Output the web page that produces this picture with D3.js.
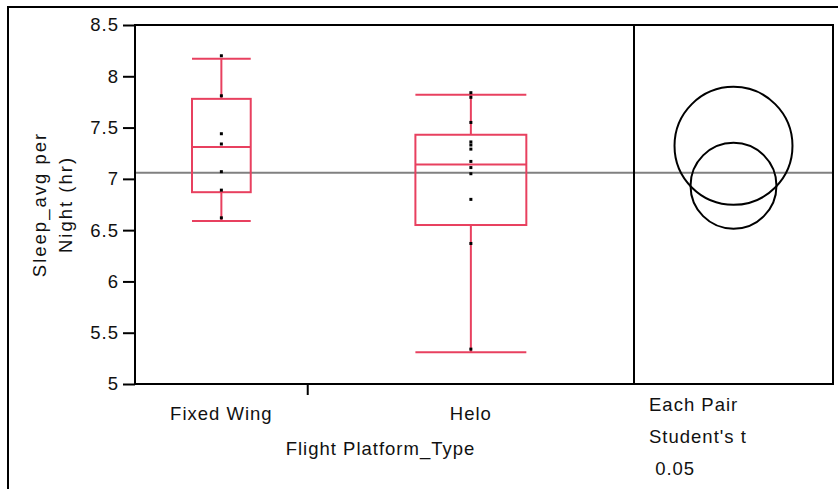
<!DOCTYPE html>
<html>
<head>
<meta charset="utf-8">
<script src="https://cdn.jsdelivr.net/npm/d3@7"></script>
<style>
  body { margin: 0; background: #fff; }
  svg text { font-family: "Liberation Sans", Arial, sans-serif; fill: #111; letter-spacing: 1px; }
</style>
</head>
<body>
<svg id="chart" width="838" height="489"></svg>
<script>
// groups and their (estimated) counts, used for the JMP-style proportional widths
var groups = ['Fixed Wing', 'Helo'];
var groupCounts = [9, 17];

// box stats: [lowerWhisker, q1, median, q3, upperWhisker]
var fixedBox = [6.59, 6.87, 7.31, 7.78, 8.17];
var heloBox = [5.31, 6.55, 7.14, 7.43, 7.82];

var fixedPoints = [8.20, 7.81, 7.44, 7.34, 7.07, 6.89, 6.62];
var heloPoints = [7.84, 7.795, 7.55, 7.36, 7.33, 7.29, 7.17, 7.11, 7.05, 6.80, 6.37, 5.34];

// comparison circles (Each Pair, Student's t, 0.05)
var circleCenters = [7.322, 6.933];
var circleRadii = [0.575, 0.419];

var grandMean = 7.06;
var yTicks = [5, 5.5, 6, 6.5, 7, 7.5, 8, 8.5];

var svg = d3.select('#chart'),
    plotLeft = 135,
    divider = 634,
    plotRight = 833,
    plotTop = 25,
    plotBottom = 384,
    boxColor = '#e8405f';

var y = d3.scaleLinear().domain([5, 8.5]).range([plotBottom, plotTop]);

// cumulative count -> x position in the main panel
var cum = [0];
groupCounts.forEach(function(n, i) { cum.push(cum[i] + n); });
var x = d3.scaleLinear().domain([0, cum[cum.length - 1]]).range([plotLeft, divider]);

// outer frame (left + top)
svg.append('line').attr('x1', 8).attr('x2', 8).attr('y1', 6).attr('y2', 489)
    .attr('stroke', '#000').attr('stroke-width', 2);
svg.append('line').attr('x1', 7).attr('x2', 838).attr('y1', 7).attr('y2', 7)
    .attr('stroke', '#000').attr('stroke-width', 2);

// grand mean line
svg.append('line')
    .attr('x1', plotLeft).attr('x2', plotRight)
    .attr('y1', y(grandMean)).attr('y2', y(grandMean))
    .attr('stroke', '#808080').attr('stroke-width', 2);

// y axis
var yAxis = d3.axisLeft(y).tickValues(yTicks).tickSize(12).tickPadding(4)
    .tickFormat(function(d) { return String(d); });
var yg = svg.append('g').attr('transform', 'translate(' + plotLeft + ',0)').call(yAxis);
yg.select('.domain').remove();
yg.selectAll('line').attr('stroke', '#000').attr('stroke-width', 2);
yg.selectAll('text').style('font-size', '18.5px').attr('fill', '#111')
    .style('font-family', '"Liberation Sans", Arial, sans-serif');

// boxes
var boxes = [fixedBox, heloBox],
    points = [fixedPoints, heloPoints];

groups.forEach(function(g, i) {
    var x0 = x(cum[i]), x1 = x(cum[i + 1]),
        cx = (x0 + x1) / 2,
        bw = (x1 - x0) * 0.34,
        b = boxes[i],
        gg = svg.append('g')
            .attr('fill', 'none')
            .attr('stroke', boxColor)
            .attr('stroke-width', 2);

    gg.append('line').attr('x1', cx).attr('x2', cx).attr('y1', y(b[0])).attr('y2', y(b[1]));
    gg.append('line').attr('x1', cx).attr('x2', cx).attr('y1', y(b[3])).attr('y2', y(b[4]));
    [b[0], b[4]].forEach(function(v) {
        gg.append('line').attr('x1', cx - bw / 2).attr('x2', cx + bw / 2).attr('y1', y(v)).attr('y2', y(v));
    });
    gg.append('rect')
        .attr('x', cx - bw / 2).attr('width', bw)
        .attr('y', y(b[3])).attr('height', y(b[1]) - y(b[3]));
    gg.append('line').attr('x1', cx - bw / 2).attr('x2', cx + bw / 2).attr('y1', y(b[2])).attr('y2', y(b[2]));

    svg.append('g').selectAll('rect')
        .data(points[i])
        .enter().append('rect')
        .attr('x', cx - 1.5).attr('width', 3)
        .attr('y', function(d) { return y(d) - 1.5; }).attr('height', 3)
        .attr('fill', '#000');

    svg.append('text')
        .attr('x', cx).attr('y', 420)
        .attr('text-anchor', 'middle')
        .style('font-size', '18.5px')
        .text(g);
});

// category divider tick
cum.slice(1, -1).forEach(function(c) {
    svg.append('line').attr('x1', x(c)).attr('x2', x(c)).attr('y1', plotBottom).attr('y2', plotBottom + 11)
        .attr('stroke', '#000').attr('stroke-width', 2);
});

// frames of the two panels
svg.append('rect')
    .attr('x', plotLeft).attr('y', plotTop)
    .attr('width', plotRight - plotLeft).attr('height', plotBottom - plotTop)
    .attr('fill', 'none').attr('stroke', '#000').attr('stroke-width', 2);
svg.append('line').attr('x1', divider).attr('x2', divider).attr('y1', plotTop).attr('y2', plotBottom)
    .attr('stroke', '#000').attr('stroke-width', 2);

// comparison circles
var ccx = (divider + plotRight) / 2;
svg.append('g').selectAll('circle')
    .data(circleCenters)
    .enter().append('circle')
    .attr('cx', ccx)
    .attr('cy', function(d) { return y(d); })
    .attr('r', function(d, i) { return y(d - circleRadii[i]) - y(d); })
    .attr('fill', 'none').attr('stroke', '#000').attr('stroke-width', 2);

// axis titles
svg.append('text')
    .attr('x', (plotLeft + divider) / 2 - 4).attr('y', 455)
    .attr('text-anchor', 'middle')
    .style('font-size', '18.5px')
    .text('Flight Platform_Type');

var yl = svg.append('text')
    .attr('transform', 'translate(46,' + ((plotTop + plotBottom) / 2) + ') rotate(-90)')
    .attr('text-anchor', 'middle')
    .style('font-size', '18.5px')
    .style('letter-spacing', '2px');
yl.append('tspan').attr('x', 0).attr('dy', 0).text('Sleep_avg per');
yl.append('tspan').attr('x', 0).attr('dy', 26).text('Night (hr)');

// comparison circle legend text
var legendLines = ['Each Pair', "Student's t", ' 0.05'];
svg.append('g').selectAll('text')
    .data(legendLines)
    .enter().append('text')
    .attr('x', 649)
    .attr('y', function(d, i) { return 411 + i * 32; })
    .attr('xml:space', 'preserve')
    .style('white-space', 'pre')
    .style('font-size', '18.5px')
    .text(function(d) { return d; });
</script>
</body>
</html>
